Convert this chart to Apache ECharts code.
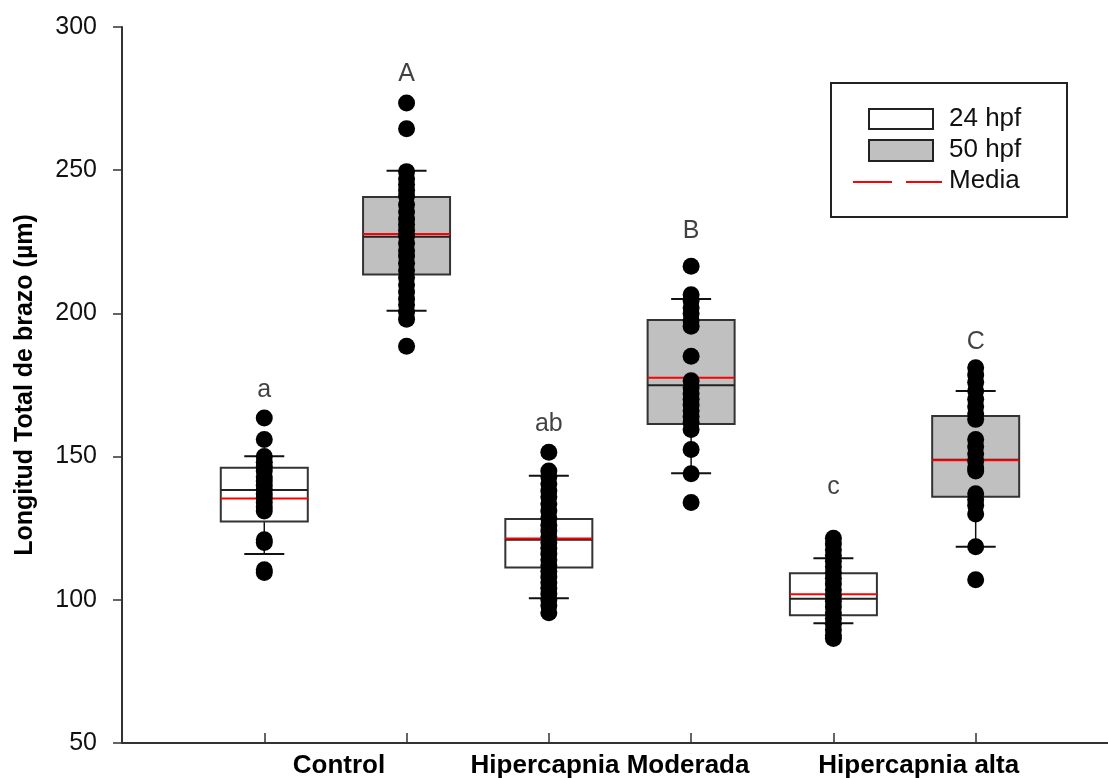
<!DOCTYPE html>
<html>
<head>
<meta charset="utf-8">
<script src="https://cdn.jsdelivr.net/npm/echarts@6/dist/echarts.min.js"></script>
<style>
  html, body { margin: 0; padding: 0; background: #fff; }
  #chart { width: 1108px; height: 778px; }
</style>
</head>
<body>
<div id="chart"></div>
<script>
// group labels under the axis and where they sit between the box pairs
const groupNames = ['Control', 'Hipercapnia Moderada', 'Hipercapnia alta'];
const groupPos = [1.525, 3.43, 5.6];
const boxPos = [1, 2, 3, 4, 5, 6];

// box summaries, one entry per box (24 hpf / 50 hpf alternating)
const whiskerLow = [116.0, 200.9, 100.5, 144.2, 91.8, 118.5];
const q1 = [127.3, 213.6, 111.3, 161.4, 94.6, 136.0];
const median = [138.3, 226.8, 121.0, 174.9, 100.4, 148.9];
const q3 = [146.1, 240.6, 128.2, 197.7, 109.3, 164.2];
const whiskerHigh = [150.1, 249.8, 143.3, 205.0, 114.5, 172.9];
const mean = [135.4, 227.7, 121.4, 177.5, 101.9, 148.7];

// individual measurements
const ctrl24 = [163.5, 156, 150, 148, 146.5, 145, 143, 141.5, 140, 138.5, 137, 135.5, 134, 132.5, 131, 121, 120, 110.5, 109.5];
const ctrl50 = [273.5, 264.5, 249.5, 247, 245, 243, 241, 238, 235.5, 233, 231, 229, 227, 224.5, 222, 220, 217.5, 215, 212.5, 210, 207.5, 205, 203, 200.5, 198, 188.5];
const mod24 = [151.5, 145, 143, 140.5, 138, 136, 133.5, 131, 128.5, 126, 124, 122, 120, 118, 116, 114, 112, 110, 108, 106, 104, 102, 100, 98, 95.5];
const mod50 = [216.5, 206.5, 204.5, 202, 200, 197.5, 195.5, 185, 176.5, 174, 172, 170, 168, 166, 164, 162, 159.5, 152.5, 144, 134];
const alta24 = [121.5, 119.5, 117.5, 115.5, 113.5, 111.5, 109.5, 107.5, 105.5, 103.5, 101.5, 99.5, 97.5, 95.5, 93.5, 91.5, 89.5, 87.5, 86.5];
const alta50 = [181, 178.5, 176, 173, 170, 167.5, 165, 163, 156, 153.5, 151, 148.5, 146, 145, 137, 135, 133, 130, 118.5, 107];

// significance letters and their height
const letters = ['a', 'A', 'ab', 'B', 'c', 'C'];
const letterY = [173.3, 283.6, 161.2, 228.8, 139.5, 190.1];

const FONT = '"Liberation Sans", Arial, sans-serif';
const allPoints = [ctrl24, ctrl50, mod24, mod50, alta24, alta50];

const boxRows = boxPos.map((x, i) => [x, whiskerLow[i], q1[i], median[i], q3[i], whiskerHigh[i], mean[i]]);

function renderBox(fill) {
    return (params, api) => {
        const x = api.value(0);
        const lo = api.coord([x, api.value(1)]);
        const b1 = api.coord([x, api.value(2)]);
        const med = api.coord([x, api.value(3)]);
        const b3 = api.coord([x, api.value(4)]);
        const hi = api.coord([x, api.value(5)]);
        const mn = api.coord([x, api.value(6)]);
        const c = lo[0];
        const half = 43.5; // box half width
        const cap = 20; // whisker cap half width
        const hline = (y, color, w, hw) => ({
            type: 'line',
            shape: { x1: c - hw, y1: y, x2: c + hw, y2: y },
            style: { stroke: color, lineWidth: w },
        });
        return {
            type: 'group',
            children: [
                { type: 'line', shape: { x1: c, y1: lo[1], x2: c, y2: hi[1] }, style: { stroke: '#111', lineWidth: 1.5 } },
                {
                    type: 'rect',
                    shape: { x: c - half, y: b3[1], width: half * 2, height: b1[1] - b3[1] },
                    style: { fill: fill, stroke: '#333', lineWidth: 2 },
                },
                hline(med[1], '#222', 2, half),
                hline(mn[1], '#ff0000', 2, half),
                hline(lo[1], '#111', 2, cap),
                hline(hi[1], '#111', 2, cap),
            ],
        };
    };
}

const chart = echarts.init(document.getElementById('chart'));

chart.setOption({
    animation: false,
    backgroundColor: '#fff',
    grid: { left: 122, right: 0, top: 27, bottom: 35, outerBoundsMode: 'none', containLabel: false },
    xAxis: {
        type: 'value',
        min: 0,
        max: 6.93,
        splitLine: { show: false },
        axisLine: { lineStyle: { color: '#333', width: 2 } },
        axisTick: {
            show: true,
            inside: true,
            length: 10,
            customValues: boxPos,
            lineStyle: { color: '#333', width: 1.5 },
        },
        axisLabel: {
            customValues: groupPos,
            margin: 10,
            color: '#000',
            fontFamily: FONT,
            fontWeight: 'bold',
            fontSize: 26,
            formatter: v => {
                const i = groupPos.findIndex(p => Math.abs(p - v) < 1e-6);
                return i >= 0 ? groupNames[i] : '';
            },
        },
    },
    yAxis: {
        type: 'value',
        min: 50,
        max: 300,
        interval: 50,
        name: 'Longitud Total de brazo (µm)',
        nameLocation: 'middle',
        nameGap: 84,
        nameTextStyle: { fontFamily: FONT, fontWeight: 'bold', fontSize: 25, color: '#000' },
        splitLine: { show: false },
        axisLine: { show: true, lineStyle: { color: '#333', width: 2 } },
        axisTick: { show: true, length: 9, lineStyle: { color: '#333', width: 1.5 } },
        axisLabel: { margin: 25, color: '#111', fontFamily: FONT, fontSize: 25 },
    },
    series: [
        {
            name: '24 hpf',
            type: 'custom',
            renderItem: renderBox('#ffffff'),
            data: boxRows.filter((_, i) => i % 2 === 0),
            encode: { x: 0, y: [1, 5] },
            z: 2,
        },
        {
            name: '50 hpf',
            type: 'custom',
            renderItem: renderBox('#c0c0c0'),
            data: boxRows.filter((_, i) => i % 2 === 1),
            encode: { x: 0, y: [1, 5] },
            z: 2,
        },
        {
            name: 'points',
            type: 'scatter',
            symbol: 'circle',
            symbolSize: 17,
            itemStyle: { color: '#000', opacity: 1 },
            data: allPoints.flatMap((arr, i) => arr.map(v => [boxPos[i], v])),
            z: 5,
        },
        {
            name: 'letters',
            type: 'scatter',
            symbolSize: 0,
            data: letters.map((t, i) => [boxPos[i], letterY[i], t]),
            label: {
                show: true,
                position: 'inside',
                formatter: p => p.data[2],
                color: '#111',
                fontFamily: FONT,
                fontSize: 25,
            },
            z: 6,
        },
    ],
    graphic: [
        { type: 'rect', shape: { x: 831, y: 83, width: 236, height: 134 }, style: { fill: '#fff', stroke: '#222', lineWidth: 2 }, z: 10 },
        { type: 'rect', shape: { x: 869, y: 109, width: 64, height: 20 }, style: { fill: '#fff', stroke: '#222', lineWidth: 2 }, z: 11 },
        { type: 'rect', shape: { x: 869, y: 140, width: 64, height: 21 }, style: { fill: '#c0c0c0', stroke: '#222', lineWidth: 2 }, z: 11 },
        { type: 'line', shape: { x1: 853, y1: 182, x2: 892, y2: 182 }, style: { stroke: '#ff0000', lineWidth: 2 }, z: 11 },
        { type: 'line', shape: { x1: 906, y1: 182, x2: 942, y2: 182 }, style: { stroke: '#ff0000', lineWidth: 2 }, z: 11 },
        { type: 'text', x: 949, y: 119, style: { text: '24 hpf', font: '26px ' + FONT, fill: '#111', verticalAlign: 'middle' }, z: 11 },
        { type: 'text', x: 949, y: 150, style: { text: '50 hpf', font: '26px ' + FONT, fill: '#111', verticalAlign: 'middle' }, z: 11 },
        { type: 'text', x: 949, y: 181, style: { text: 'Media', font: '26px ' + FONT, fill: '#111', verticalAlign: 'middle' }, z: 11 },
    ],
});
</script>
</body>
</html>
